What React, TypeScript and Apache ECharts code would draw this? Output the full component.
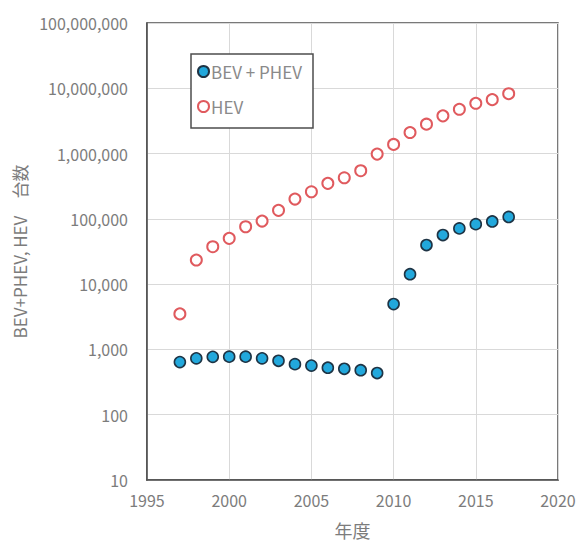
import React, { useEffect, useRef } from "react";
import * as echarts from "echarts";

const years = [1997, 1998, 1999, 2000, 2001, 2002, 2003, 2004, 2005, 2006, 2007, 2008, 2009, 2010, 2011, 2012, 2013, 2014, 2015, 2016, 2017];
const bevPhev = [640, 730, 770, 775, 775, 730, 670, 595, 565, 525, 505, 480, 435, 4950, 14200, 39700, 56500, 71400, 83000, 91200, 107000];
const hev = [3500, 23400, 37400, 50300, 75700, 92500, 135000, 201000, 260000, 350000, 426000, 546000, 982000, 1380000, 2100000, 2820000, 3780000, 4770000, 5890000, 6700000, 8260000];
const seriesNames = ["BEV + PHEV", "HEV"];
const xTitle = "年度";
const yTitle = "BEV+PHEV, HEV　台数";

const FONT = "'Noto Sans CJK JP', 'Noto Sans', sans-serif";
const GRAY = "#7c7c7c";

export default function App() {
  const ref = useRef<HTMLDivElement>(null);
  useEffect(() => {
    if (!ref.current) return;
    const chart = echarts.init(ref.current, null, { renderer: "svg" });
    chart.setOption({
      animation: false,
      backgroundColor: "#ffffff",
      textStyle: { fontFamily: FONT },
      grid: {
        left: 147,
        right: 20,
        top: 23,
        bottom: 62,
        outerBoundsMode: "none",
        containLabel: false,
        show: true,
        borderColor: "#4d4d4d",
        borderWidth: 1.5,
        backgroundColor: "transparent",
      },
      graphic: [
        {
          type: "rect",
          shape: { x: 191, y: 54, width: 122, height: 74 },
          style: { fill: "#ffffff", stroke: "#4d4d4d", lineWidth: 1.5 },
          z: 10,
        },
      ],
      legend: {
        orient: "vertical",
        left: 197,
        top: 61,
        padding: 0,
        itemGap: 14,
        itemWidth: 11,
        itemHeight: 11,
        icon: "circle",
        z: 20,
        textStyle: { fontSize: 17, color: "#8a8a8a", fontFamily: FONT, padding: [0, 0, 0, -3], lineHeight: 21 },
        data: seriesNames,
      },
      xAxis: {
        type: "value",
        min: 1995,
        max: 2020,
        interval: 5,
        name: xTitle,
        nameLocation: "middle",
        nameGap: 41,
        nameTextStyle: { fontSize: 18, lineHeight: 18, color: GRAY, fontFamily: FONT },
        axisLine: { show: true, lineStyle: { color: "#4d4d4d", width: 1.5 } },
        axisTick: { show: false },
        axisLabel: { fontSize: 16, color: GRAY, margin: 12, formatter: (v: number) => String(v) },
        splitLine: { show: true, lineStyle: { color: "#d9d9d9", width: 1 } },
      },
      yAxis: {
        type: "log",
        logBase: 10,
        min: 10,
        max: 100000000,
        name: yTitle,
        nameLocation: "middle",
        nameGap: 113,
        nameRotate: 90,
        nameTextStyle: { fontSize: 17, color: GRAY, fontFamily: FONT },
        axisLine: { show: true, lineStyle: { color: "#4d4d4d", width: 1.5 } },
        axisTick: { show: false },
        axisLabel: {
          fontSize: 16,
          color: GRAY,
          margin: 19,
          formatter: (v: number) => Math.round(v).toLocaleString("en-US"),
        },
        splitLine: { show: true, lineStyle: { color: "#d9d9d9", width: 1 } },
        minorSplitLine: { show: false },
      },
      series: [
        {
          name: seriesNames[0],
          type: "scatter",
          symbol: "circle",
          symbolSize: 11,
          data: years.map((y, i) => [y, bevPhev[i]]),
          itemStyle: { color: "#22a8dc", borderColor: "#1e3445", borderWidth: 1.6, opacity: 1 },
          z: 3,
        },
        {
          name: seriesNames[1],
          type: "scatter",
          symbol: "circle",
          symbolSize: 11,
          data: years.map((y, i) => [y, hev[i]]),
          itemStyle: { color: "#ffffff", borderColor: "#e05a5e", borderWidth: 2, opacity: 1 },
          z: 3,
        },
      ],
    });
    return () => chart.dispose();
  }, []);
  return <div ref={ref} style={{ width: 578, height: 542, position: "absolute", left: 0, top: 0 }} />;
}
